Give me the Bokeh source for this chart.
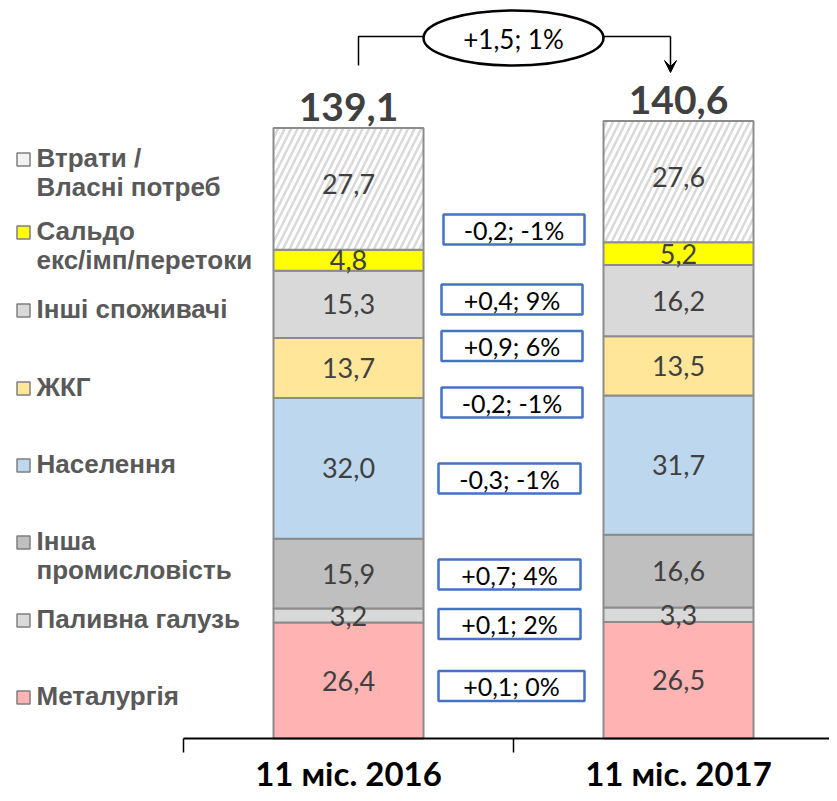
from bokeh.plotting import figure
from bokeh.models import Range1d, ColumnDataSource, Arrow, VeeHead
from bokeh.embed import file_html
from bokeh.resources import INLINE
from bokeh.core.properties import value

# ---------------- data ----------------
categories = ["11 міс. 2016", "11 міс. 2017"]
segments = ["Металургія", "Паливна галузь", "Інша\nпромисловість", "Населення",
            "ЖКГ", "Інші споживачі", "Сальдо\nекс/імп/перетоки", "Втрати /\nВласні потреб"]
v2016 = [26.4, 3.2, 15.9, 32.0, 13.7, 15.3, 4.8, 27.7]
v2017 = [26.5, 3.3, 16.6, 31.7, 13.5, 16.2, 5.2, 27.6]
totals = ["139,1", "140,6"]
total_values = [139.1, 140.6]
changes = ["+0,1; 0%", "+0,1; 2%", "+0,7; 4%", "-0,3; -1%",
           "-0,2; -1%", "+0,9; 6%", "+0,4; 9%", "-0,2; -1%"]
total_change = "+1,5; 1%"

# ---------------- styles / layout ----------------
colors = ["#ffb3b3", "#d9d9d9", "#bfbfbf", "#bdd7ee", "#ffe699", "#d9d9d9", "#ffff00", "#ffffff"]
legend_marker_colors = ["#ffb3b3", "#d9d9d9", "#bfbfbf", "#bdd7ee", "#ffe699", "#d9d9d9", "#ffff00", "#f2f2f2"]
W, H = 829, 793
X0PX, XUNIT = 183.0, 330.0     # image px of category-axis origin, px per category
Y0PX, YUNIT = 738.0, 4.392     # image px of value 0, px per unit


def dx(xi):
    return (xi - X0PX) / XUNIT


def dy(yi):
    return (Y0PX - yi) / YUNIT


# change-box layout (image px): centre x, centre y, width
box_cx = [511, 509, 509, 509, 511.5, 511.5, 511.5, 513.5]
box_cy = [685.5, 623.5, 574, 478, 402, 345.5, 299, 229]
box_w = [146, 142, 142, 142, 141, 141, 141, 141]
# legend layout (image px): marker centre y
legend_my = [697, 620, 542, 465, 388, 310, 232, 159]

p = figure(width=W, height=H, output_backend="svg", toolbar_location=None,
           x_range=Range1d(dx(0), dx(W)), y_range=Range1d(dy(H), dy(0)),
           x_axis_location=None, y_axis_location=None, min_border=0,
           outline_line_color=None)
p.grid.visible = False
p.background_fill_color = "white"

# ---------------- stacked bars ----------------
rows = dict(x=[], bottom=[], top=[], mid=[], color=[], label=[])
hrows = dict(x=[], bottom=[], top=[], mid=[], label=[])
for i, vals in enumerate([v2016, v2017]):
    b = 0.0
    for j, v in enumerate(vals):
        t = b + v
        lab = f"{v:.1f}".replace(".", ",")
        if j == len(vals) - 1:
            hrows["x"].append(i + 0.5); hrows["bottom"].append(b); hrows["top"].append(t)
            hrows["mid"].append((b + t) / 2 + 5 / YUNIT); hrows["label"].append(lab)
        else:
            rows["x"].append(i + 0.5); rows["bottom"].append(b); rows["top"].append(t)
            rows["mid"].append((b + t) / 2); rows["color"].append(colors[j]); rows["label"].append(lab)
        b = t

src = ColumnDataSource(rows)
hsrc = ColumnDataSource(hrows)
BW = 150 / XUNIT
p.vbar(x="x", width=BW, bottom="bottom", top="top", source=src,
       fill_color="color", line_color="#8c8c8c", line_width=2)
p.vbar(x="x", width=BW, bottom="bottom", top="top", source=hsrc,
       fill_color="white", line_color="#8c8c8c", line_width=2,
       hatch_pattern="/", hatch_color="#d9d9d9", hatch_scale=13, hatch_weight=2.5)

for s in (src, hsrc):
    p.text(x="x", y="mid", text="label", source=s, text_align="center", text_baseline="middle",
           text_font=value("Lato"), text_font_size="27px", text_color="#404040")

# totals
p.text(x=[0.5, 1.5], y=[t + 21 / YUNIT for t in total_values], text=totals,
       text_align="center", text_baseline="middle", text_font=value("Lato"),
       text_font_style="bold", text_font_size="39px", text_color="#404040")

# ---------------- change boxes ----------------
p.rect(x=[dx(c) for c in box_cx], y=[dy(c) for c in box_cy], width=box_w, height=30,
       width_units="screen", height_units="screen", fill_color="white",
       line_color="#4472c4", line_width=2.5)
p.text(x=[dx(c) for c in box_cx], y=[dy(c) for c in box_cy], text=changes,
       text_align="center", text_baseline="middle", text_font=value("Lato"),
       text_font_size="25px", text_color="black")

# ---------------- bracket with total change ----------------
p.line([dx(358), dx(358), dx(423)], [dy(65), dy(36), dy(36)], line_color="black", line_width=1.5)
p.line([dx(603), dx(670)], [dy(36), dy(36)], line_color="black", line_width=1.5)
p.add_layout(Arrow(x_start=dx(670), y_start=dy(36), x_end=dx(670), y_end=dy(72),
                   line_width=1.5, line_color="black",
                   end=VeeHead(size=12, fill_color="black", line_color="black", line_width=1)))
p.ellipse(x=[dx(513)], y=[dy(37.5)], width=180, height=55, width_units="screen",
          height_units="screen", fill_color="white", line_color="black", line_width=2.5)
p.text(x=[dx(513)], y=[dy(38)], text=[total_change], text_align="center", text_baseline="middle",
       text_font=value("Lato"), text_font_size="26px", text_color="black")

# ---------------- category axis ----------------
p.line([dx(183), dx(W)], [0, 0], line_color="black", line_width=2)
p.segment(x0=[0, 1, 2], y0=[0, 0, 0], x1=[0, 1, 2], y1=[dy(752)] * 3,
          line_color="black", line_width=1.5)
p.text(x=[0.5, 1.5], y=[dy(772)] * 2, text=categories, text_align="center",
       text_baseline="middle", text_font=value("Lato"), text_font_style="bold",
       text_font_size="33px", text_color="black")

# ---------------- legend ----------------
p.scatter(x=[dx(23)] * len(segments), y=[dy(m) for m in legend_my], marker="square", size=13,
          fill_color=legend_marker_colors, line_color="#7f7f7f", line_width=1.5)
lx, ly, lt = [], [], []
for name, m in zip(segments, legend_my):
    for k, line in enumerate(name.split("\n")):
        lx.append(dx(36)); ly.append(dy(m - 2 + 29 * k)); lt.append(line)
p.text(x=lx, y=ly, text=lt, text_align="left", text_baseline="alphabetic",
       text_font=value("Liberation Sans"), text_font_style="bold", text_font_size="26px",
       text_color="#595959")

open("out.html", "w").write(file_html(p, INLINE))
